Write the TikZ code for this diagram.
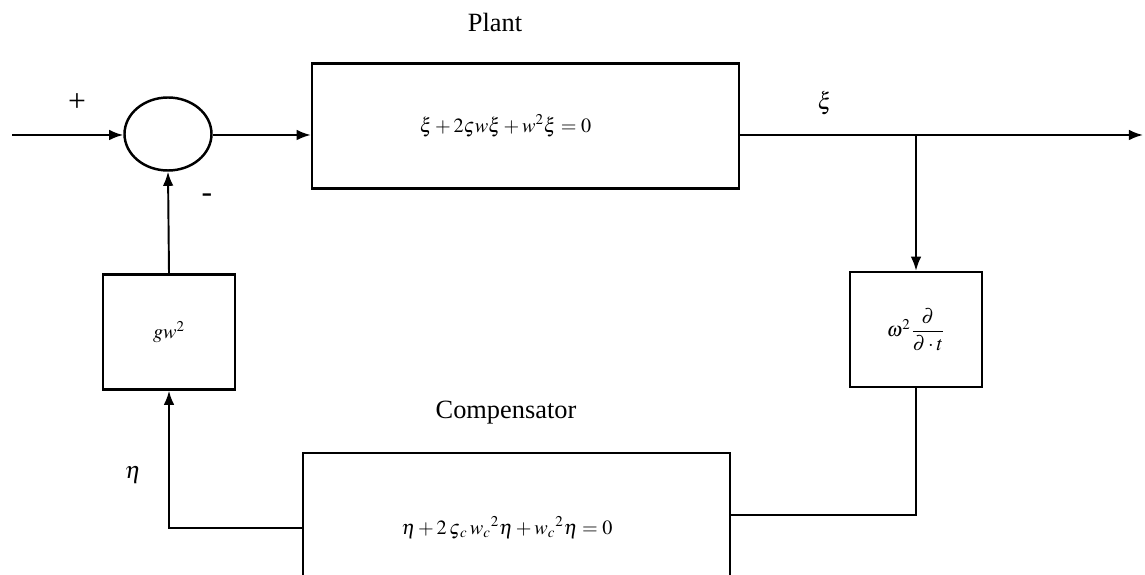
\documentclass[tikz,border=0pt]{standalone}
\usepackage{amsmath,amssymb}
\usepackage{mathptmx}
\usepackage{fontspec}
\setmainfont{Liberation Serif}
\usepackage{tikz}
\usetikzlibrary{shapes,arrows.meta,positioning,calc}

\begin{document}
\begin{tikzpicture}[
    font=\fontsize{15}{18}\selectfont,
    eq/.style={font=\fontsize{11.5}{14}\selectfont},
    sig/.style={font=\fontsize{13.5}{16}\selectfont},
    block/.style={draw, line width=1.4pt, minimum width=2.64cm, minimum height=2.3cm},
    wire/.style={line width=1.1pt},
    arr/.style={wire, -{Latex[length=8pt,width=6pt]}}
  ]
    \useasboundingbox (0,0) rectangle (22.9,-11.5);
    \clip (0,0) rectangle (22.9,-11.5);

    % summing junction and blocks
    \node[draw, ellipse, line width=1.4pt, minimum width=1.74cm, minimum height=1.46cm] (sum) at (3.36,-2.68) {};
    \node[block, minimum width=8.54cm, minimum height=2.5cm] (plant) at (10.51,-2.52) {};
    \node[block, eq] (gain) at (3.38,-6.64) {$gw^2$};
    \node[block, eq] (deriv) at (18.32,-6.59) {$\omega^2\dfrac{\partial}{\partial\cdot t}$};
    \node[block, minimum width=8.54cm, minimum height=3cm] (comp) at (10.33,-10.56) {};

    % equations
    \node[eq] (planteq) at ([xshift=-0.4cm]plant.center) {$\xi+2\varsigma w\xi+w^2\xi=0$};
    \node[eq] (compeq) at ([xshift=-0.19cm]comp.center) {$\eta+2\,\varsigma{}_c\,w_c{}^2\eta+w_c{}^2\eta=0$};

    % titles
    \node (plantlbl) at (9.9,-0.44) {Plant};
    \node (complbl) at (10.12,-8.26) {Compensator};

    % signals
    \coordinate (in) at (0.24,-2.7);
    \coordinate (out) at (22.86,-2.7);
    \coordinate (jn) at (deriv.north |- out);

    \draw[arr] (in) -- (in -| sum.west);
    \draw[arr] (sum.east |- in) -- (in -| plant.west);
    \draw[arr] (in -| plant.east) -- (out);
    \draw[arr] (jn) -- (deriv.north);
    \draw[wire] (deriv.south) |- ([yshift=0.26cm]comp.east);
    \draw[arr] (comp.west) -| (gain.south);
    \draw[arr] (gain.north) -- (sum.south);

    \node[font=\fontsize{18}{20}\selectfont] (plus) at (1.54,-2.06) {+};
    \node[font=\fontsize{18}{20}\selectfont] (minus) at (4.14,-3.96) {-};
    \node[sig] (xi) at (16.5,-2.06) {$\xi$};
    \node[sig] (eta) at (2.66,-9.5) {$\eta$};
\end{tikzpicture}
\end{document}
